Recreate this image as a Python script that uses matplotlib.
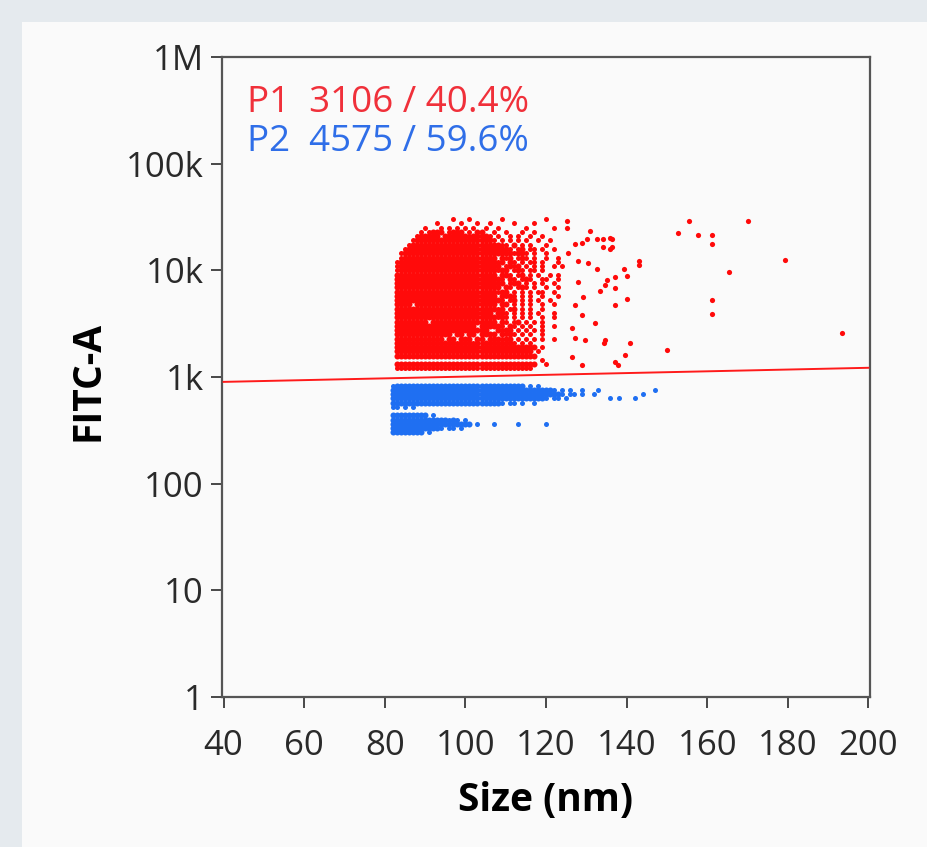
import numpy as np
import matplotlib
matplotlib.use("Agg")
import matplotlib.pyplot as plt
from matplotlib.patches import Rectangle

plt.rcParams['font.family'] = ['Open Sans', 'DejaVu Sans']

# gate boundary between P1 (above) and P2 (below)
gate_x = [40, 200]
gate_y = [900, 1220]

p1_label = "P1  3106 / 40.4%"
p2_label = "P2  4575 / 59.6%"

x_ticks = [40, 60, 80, 100, 120, 140, 160, 180, 200]
y_ticks = [1, 10, 100, 1e3, 1e4, 1e5, 1e6]
y_ticklabels = ["1", "10", "100", "1k", "10k", "100k", "1M"]

# event map: one row per FITC level (log10),
# one column per 1 nm starting at x0. '#' = packed events, 'o' = single event
red_x0 = 81
red_logy = [4.48, 4.44, 4.40, 4.36, 4.32, 4.28, 4.24, 4.20, 4.16, 4.12, 4.08, 4.04,
            4.00, 3.96, 3.92, 3.88, 3.84, 3.80, 3.76, 3.72, 3.68, 3.64, 3.60, 3.56,
            3.52, 3.48, 3.44, 3.40, 3.36, 3.32, 3.28, 3.24, 3.20, 3.16, 3.12, 3.08]
red_rows = [
    "                o   o       o          o    ",
    "            o     o   o  o     o    o       ",
    "         o   o o o o o  o  o      o      o  ",
    "        o o### o### o ##  o  o   o  o       ",
    "       o##### ######o####o o  o o  o  o     ",
    "      o###################o o o o o  o  o   ",
    "     o######################oo # o o   o    ",
    "    o#########################o o# oo o  o  ",
    "   o###########################o##o o  o    ",
    "   o######################" "# #o# o#o o  o  o ",
    "  o#######################" "#o# #o o oo o   o ",
    "  o#######################" "## o#o# o o o  o o",
    "  o#######################" "#o## o#o oo o     ",
    "  ########################" "# ##o o# o o  o o ",
    "  ########################" "##o #o o#o  oo  o ",
    "  ########################" "#o# o## o o o  o  ",
    "  ########################" "## #o o#o o  o  o ",
    "  ########################" "#o## o o o oo  o  ",
    "  ########################" "# #o#o o o  o   o ",
    "  ########################" "##o o# o o o  o   ",
    "  #### ###################" "# ## o o o  o  o  ",
    "  ########################" "#o# o# o o  o     ",
    "  ########################" " ##o o o o o   o  ",
    "  ########################" "#o#o o o o  o  o  ",
    "  ######## ###############" "# #o o# o o o     ",
    "  #################### ###" "##o #o o o  o  o  ",
    "  ####################### " " #o## o o o o     ",
    "  ############## ## ## ###" "# #o#o o o  o     ",
    "  ############ ## ### ## #" "##o## o o o o  o  ",
    "  ###o#o#o#o#o#o#o#o#o#o#o#o#o#o o o        ",
    "  ################################### o     ",
    "  ################################## o      ",
    "  ###################################       ",
    "                                      o     ",
    "  ###################################  o    ",
    "  oooooooooooooooooooooooooooooooooo        ",
]

# scattered P1 events right of the main cloud (Size nm, FITC-A)
red_out_x = [125.2, 125.2, 131.0, 132.7, 134.2, 136.4, 134.2, 136.4, 127.2, 129.0,
             130.2, 125.5, 128.0, 130.4, 132.7, 134.7, 133.4, 137.1, 137.1, 137.1,
             128.0, 129.2, 127.2, 129.0, 132.2, 126.5, 127.2, 129.7, 134.7, 126.5,
             129.0, 137.1, 155.5, 170.2, 152.8, 157.8, 161.2, 161.2, 179.4, 165.5,
             161.2, 161.2, 193.5, 150.1, 137.9, 143.1, 143.1, 140.1, 140.9, 139.6,
             134.4, 140.1, 139.4, 135.9, 135.9, 135.2]
red_out_y = [29300, 25000, 23600, 19800, 19800, 19800, 16400, 16400, 17800, 18100,
             19800, 14500, 12300, 11800, 10400, 7300, 6400, 8600, 6900, 4700,
             7700, 5600, 4700, 3800, 3200, 2900, 2300, 2200, 2200, 1550,
             1300, 1380, 28700, 28700, 22600, 21600, 21600, 17800, 12600, 9700,
             5300, 3900, 2600, 1800, 1300, 12300, 11300, 5400, 2100, 1600,
             2100, 8800, 10400, 20300, 16000, 8100]

blue_x0 = 81
blue_logy = [2.92, 2.88, 2.84, 2.80, 2.76, 2.72, 2.68, 2.64, 2.60, 2.56, 2.52, 2.48]
blue_rows = [
    " o################################ o o",
    " ########################################o o o  o   o             o",
    " ##########################################o oo o  o           o",
    " ######################################o oo o          o o   o",
    " ###########################o oo o  o",
    " oo o o",
    "",
    " ######### o",
    " ##############o#o o",
    " #################### o   o     o      o",
    " ############o oo o",
    " ######## o",
]


def unpack(rows, logy, x0):
    packed, single = ([], []), ([], [])
    for row, ly in zip(rows, logy):
        for j, ch in enumerate(row):
            if ch == '#':
                packed[0].append(x0 + j)
                packed[1].append(10 ** ly)
            elif ch == 'o':
                single[0].append(x0 + j)
                single[1].append(10 ** ly)
    return packed, single


red_c = '#ff0a0a'
blue_c = '#1f6ff2'

fig = plt.figure(figsize=(9.28, 8.47), dpi=100)
fig.patch.set_facecolor('#e5eaee')
fig.patches.append(Rectangle((22 / 928, 0), 1, 1 - 22 / 847, transform=fig.transFigure,
                             facecolor='#fafafa', edgecolor='none', zorder=-10))

ax = fig.add_axes([222 / 928, 1 - 697 / 847, 648 / 928, 640 / 847])
ax.set_facecolor('#fafafa')

for rows, logy, x0, col in [(red_rows, red_logy, red_x0, red_c),
                            (blue_rows, blue_logy, blue_x0, blue_c)]:
    packed, single = unpack(rows, logy, x0)
    ax.scatter(packed[0], packed[1], s=19, color=col, linewidths=0, zorder=2)
    ax.scatter(single[0], single[1], s=13, color=col, linewidths=0, zorder=2)

ax.scatter(red_out_x, red_out_y, s=14, color=red_c, linewidths=0, zorder=2)

ax.plot(gate_x, gate_y, color='#ff1a1a', lw=1.4, zorder=3)

ax.set_yscale('log')
ax.set_xlim(39.6, 200.4)
ax.set_ylim(1, 1e6)
ax.set_xticks(x_ticks)
ax.set_xticklabels([str(t) for t in x_ticks])
ax.set_yticks(y_ticks)
ax.set_yticklabels(y_ticklabels)
ax.minorticks_off()
ax.tick_params(axis='both', length=8, width=1.3, color='#3a3a3a',
               labelsize=25, labelcolor='#2a2a2a')
ax.tick_params(axis='x', pad=15)
ax.tick_params(axis='y', pad=5)
for sp in ax.spines.values():
    sp.set_color('#555555')
    sp.set_linewidth(1.6)

ax.set_xlabel("Size (nm)", fontsize=28, fontweight='bold', va='center')
ax.xaxis.set_label_coords(0.5, -(801 - 697) / 640)
ax.set_ylabel("FITC-A", fontsize=28, fontweight='bold', va='center')
ax.yaxis.set_label_coords((88 - 222) / 648, (697 - 381) / 640)

ax.text(0.038, (697 - 103) / 640, p1_label, transform=ax.transAxes, color='#f0303a',
        fontsize=26.5, va='center', ha='left')
ax.text(0.038, (697 - 142) / 640, p2_label, transform=ax.transAxes, color='#2f6ee8',
        fontsize=26.5, va='center', ha='left')

fig.savefig("out.png", dpi=100, facecolor=fig.get_facecolor())
